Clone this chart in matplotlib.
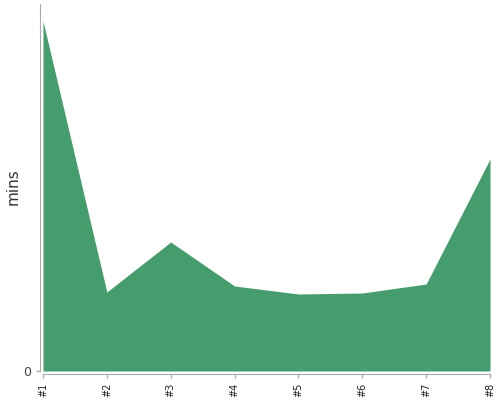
import matplotlib
matplotlib.use("Agg")
import matplotlib.pyplot as plt
import numpy as np

# data
labels = ["#1", "#2", "#3", "#4", "#5", "#6", "#7", "#8"]
mins = [350, 79, 129, 85, 77, 78, 87, 212]
y_top = 367

fig = plt.figure(figsize=(5, 4), dpi=100)
ax = fig.add_axes([0.086, 0.0725, 0.894, 0.9175])

x = np.arange(len(labels))
ax.fill_between(x, 0, mins, color="#459d6d", linewidth=0)

ax.set_xlim(0, len(labels) - 1)
ax.set_ylim(0, y_top)

for side in ["top", "right"]:
    ax.spines[side].set_visible(False)
for side in ["left", "bottom"]:
    ax.spines[side].set_color("#aaaaaa")
    ax.spines[side].set_position(("outward", 2.2))
ax.tick_params(axis="both", colors="#aaaaaa", length=3, width=1)
ax.tick_params(axis="x", labelrotation=90, labelsize=7, labelcolor="#222222")
ax.tick_params(axis="y", labelsize=9, labelcolor="#444444")

ax.set_xticks(x)
ax.set_xticklabels(labels)
ax.set_yticks([0])
ax.set_yticklabels(["0"])

# y label placed by hand, the default pad pushes it off the figure
fig.text(13 / 500, 1 - 187 / 400, "mins", rotation=90, fontsize=11,
         color="#333333", ha="center", va="center")

fig.savefig("out.png", dpi=100)
